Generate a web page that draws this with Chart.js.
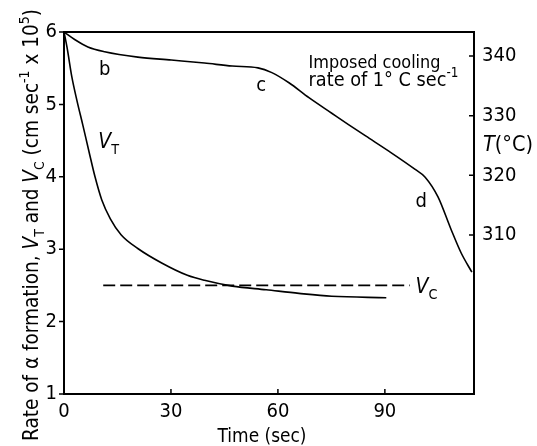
<!DOCTYPE html>
<html>
<head>
<meta charset="utf-8">
<script src="https://cdn.jsdelivr.net/npm/chart.js@4/dist/chart.umd.min.js"></script>
<style>
  body { margin: 0; background: #fff; }
  canvas { display: block; }
</style>
</head>
<body>
<canvas id="chart" width="537" height="446"></canvas>
<script>
const FONT = '"DejaVu Sans Condensed", "DejaVu Sans", sans-serif';

// temperature curve (right axis, °C)
const timeT = [0, 3.1, 6.7, 11.4, 20.7, 30.1, 39.4, 47.2, 54.4, 58.3, 63.1, 68.7, 75.1, 79.8, 84.6, 91.0, 98.5, 101.3, 104.9, 108.6, 111.4, 114.4];
const tempT = [344.0, 342.7, 341.5, 340.7, 339.8, 339.3, 338.8, 338.3, 338.0, 337.2, 335.5, 333.0, 330.4, 328.5, 326.6, 324.1, 321.0, 319.7, 316.4, 310.9, 307.0, 303.8];

// V_T curve (left axis)
const timeVT = [0, 0.84, 2.2, 3.6, 5.3, 7.0, 8.7, 10.6, 13.0, 16.0, 20.7, 27.4, 34.6, 39.4, 47.2, 56.7, 65.9, 75.1, 90.4];
const rateVT = [6.0, 5.79, 5.38, 5.06, 4.71, 4.35, 4.0, 3.68, 3.42, 3.2, 3.01, 2.81, 2.64, 2.57, 2.49, 2.44, 2.39, 2.35, 2.33];

// V_C (dashed, left axis)
const timeVC = [11, 97];
const rateVC = [2.5, 2.5];

const xTicks = [0, 30, 60, 90];
const yTicks = [1, 2, 3, 4, 5, 6];
const tTicks = [310, 320, 330, 340];

const toPoints = (xs, ys) => xs.map((x, i) => ({ x, y: ys[i] }));

function drawRich(ctx, segs, x, y, size, align, fitWidth) {
  const fontFor = (s, base) => {
    const sz = (s.sub || s.sup) ? base * 0.68 : base;
    return `${s.i ? 'italic ' : ''}${sz}px ${FONT}`;
  };
  const measure = (base) => {
    let w = 0;
    segs.forEach((s) => { ctx.font = fontFor(s, base); w += ctx.measureText(s.t).width; });
    return w;
  };
  let total = measure(size);
  if (fitWidth) {
    size = size * fitWidth / total;
    total = measure(size);
  }
  let cx = align === 'center' ? x - total / 2 : (align === 'right' ? x - total : x);
  ctx.textAlign = 'left';
  ctx.textBaseline = 'alphabetic';
  segs.forEach((s) => {
    ctx.font = fontFor(s, size);
    let dy = 0;
    if (s.sub) dy = size * 0.28;
    if (s.sup) dy = -size * 0.45;
    ctx.fillText(s.t, cx, y + dy);
    cx += ctx.measureText(s.t).width;
  });
}

const decor = {
  id: 'decor',
  afterDraw(chart) {
    const { ctx, chartArea: a, scales } = chart;
    const x = scales.x, y = scales.y, y2 = scales.y2;
    ctx.save();
    ctx.strokeStyle = '#000';
    ctx.fillStyle = '#000';
    ctx.lineWidth = 2;
    ctx.strokeRect(a.left, a.top, a.right - a.left, a.bottom - a.top);

    ctx.lineWidth = 1.5;
    ctx.beginPath();
    yTicks.forEach((v) => {
      const py = y.getPixelForValue(v);
      ctx.moveTo(a.left - 5, py); ctx.lineTo(a.left, py);
    });
    xTicks.forEach((v) => {
      const px = x.getPixelForValue(v);
      ctx.moveTo(px, a.bottom); ctx.lineTo(px, a.bottom - 5);
    });
    tTicks.forEach((v) => {
      const py = y2.getPixelForValue(v);
      ctx.moveTo(a.right - 5, py); ctx.lineTo(a.right, py);
    });
    ctx.stroke();

    // curve labels
    const at = (t, v) => [x.getPixelForValue(t), y.getPixelForValue(v)];
    let p;
    p = at(11.4, 5.4); drawRich(ctx, [{ t: 'b' }], p[0], p[1], 20, 'center');
    p = at(55.3, 5.19); drawRich(ctx, [{ t: 'c' }], p[0], p[1], 20, 'center');
    p = at(100.2, 3.58); drawRich(ctx, [{ t: 'd' }], p[0], p[1], 20, 'center');
    p = at(9.6, 4.4); drawRich(ctx, [{ t: 'V', i: true }, { t: 'T', sub: true }], p[0], p[1], 21, 'left');
    p = at(98.6, 2.39); drawRich(ctx, [{ t: 'V', i: true }, { t: 'C', sub: true }], p[0], p[1], 21, 'left');
    p = at(68.6, 5.5); drawRich(ctx, [{ t: 'Imposed cooling' }], p[0], p[1], 18, 'left', 132);
    p = at(68.6, 5.25); drawRich(ctx, [{ t: 'rate of 1° C sec' }, { t: '-1', sup: true }], p[0], p[1], 18, 'left', 150);

    // right axis title
    drawRich(ctx, [{ t: 'T', i: true }, { t: '(°C)' }], a.right + 9, 151, 19, 'left', 50);

    // x axis title
    drawRich(ctx, [{ t: 'Time (sec)' }], 262, 442, 18, 'center', 89);

    // left axis title
    ctx.translate(38, 225);
    ctx.rotate(-Math.PI / 2);
    drawRich(ctx, [
      { t: 'Rate of α formation, ' }, { t: 'V', i: true }, { t: 'T', sub: true },
      { t: ' and ' }, { t: 'V', i: true }, { t: 'C', sub: true },
      { t: ' (cm sec' }, { t: '-1', sup: true }, { t: ' x 10' }, { t: '5', sup: true }, { t: ')' }
    ], 0, 0, 20, 'center', 432);
    ctx.restore();
  }
};

const tickFont = { family: FONT, size: 20 };

new Chart(document.getElementById('chart'), {
  type: 'line',
  data: {
    datasets: [
      {
        label: 'T',
        data: toPoints(timeT, tempT),
        yAxisID: 'y2',
        borderColor: '#000',
        borderWidth: 1.6,
        pointRadius: 0,
        fill: false,
        cubicInterpolationMode: 'monotone'
      },
      {
        label: 'V_T',
        data: toPoints(timeVT, rateVT),
        yAxisID: 'y',
        borderColor: '#000',
        borderWidth: 1.6,
        pointRadius: 0,
        fill: false,
        cubicInterpolationMode: 'monotone'
      },
      {
        label: 'V_C',
        data: toPoints(timeVC, rateVC),
        yAxisID: 'y',
        borderColor: '#000',
        borderWidth: 1.6,
        borderDash: [12, 5],
        pointRadius: 0,
        fill: false
      }
    ]
  },
  options: {
    responsive: false,
    animation: false,
    parsing: false,
    layout: { padding: { top: 32, left: 0, right: 0, bottom: 0 } },
    plugins: { legend: { display: false }, tooltip: { enabled: false } },
    scales: {
      x: {
        type: 'linear',
        min: 0,
        max: 115,
        afterBuildTicks: (s) => { s.ticks = xTicks.map((value) => ({ value })); },
        afterFit: (s) => { s.height = 52; },
        grid: { display: false, drawTicks: false },
        border: { display: false },
        ticks: { color: '#000', font: tickFont, padding: 6, maxRotation: 0 }
      },
      y: {
        type: 'linear',
        position: 'left',
        min: 1,
        max: 6,
        afterBuildTicks: (s) => { s.ticks = yTicks.map((value) => ({ value })); },
        afterFit: (s) => { s.width = 64; },
        grid: { display: false, drawTicks: false },
        border: { display: false },
        ticks: { color: '#000', font: tickFont, padding: 7 }
      },
      y2: {
        type: 'linear',
        position: 'right',
        min: 283.4,
        max: 344,
        afterBuildTicks: (s) => { s.ticks = tTicks.map((value) => ({ value })); },
        afterFit: (s) => { s.width = 63; },
        grid: { display: false, drawTicks: false },
        border: { display: false },
        ticks: { color: '#000', font: tickFont, padding: 8 }
      }
    }
  },
  plugins: [decor]
});
</script>
</body>
</html>
